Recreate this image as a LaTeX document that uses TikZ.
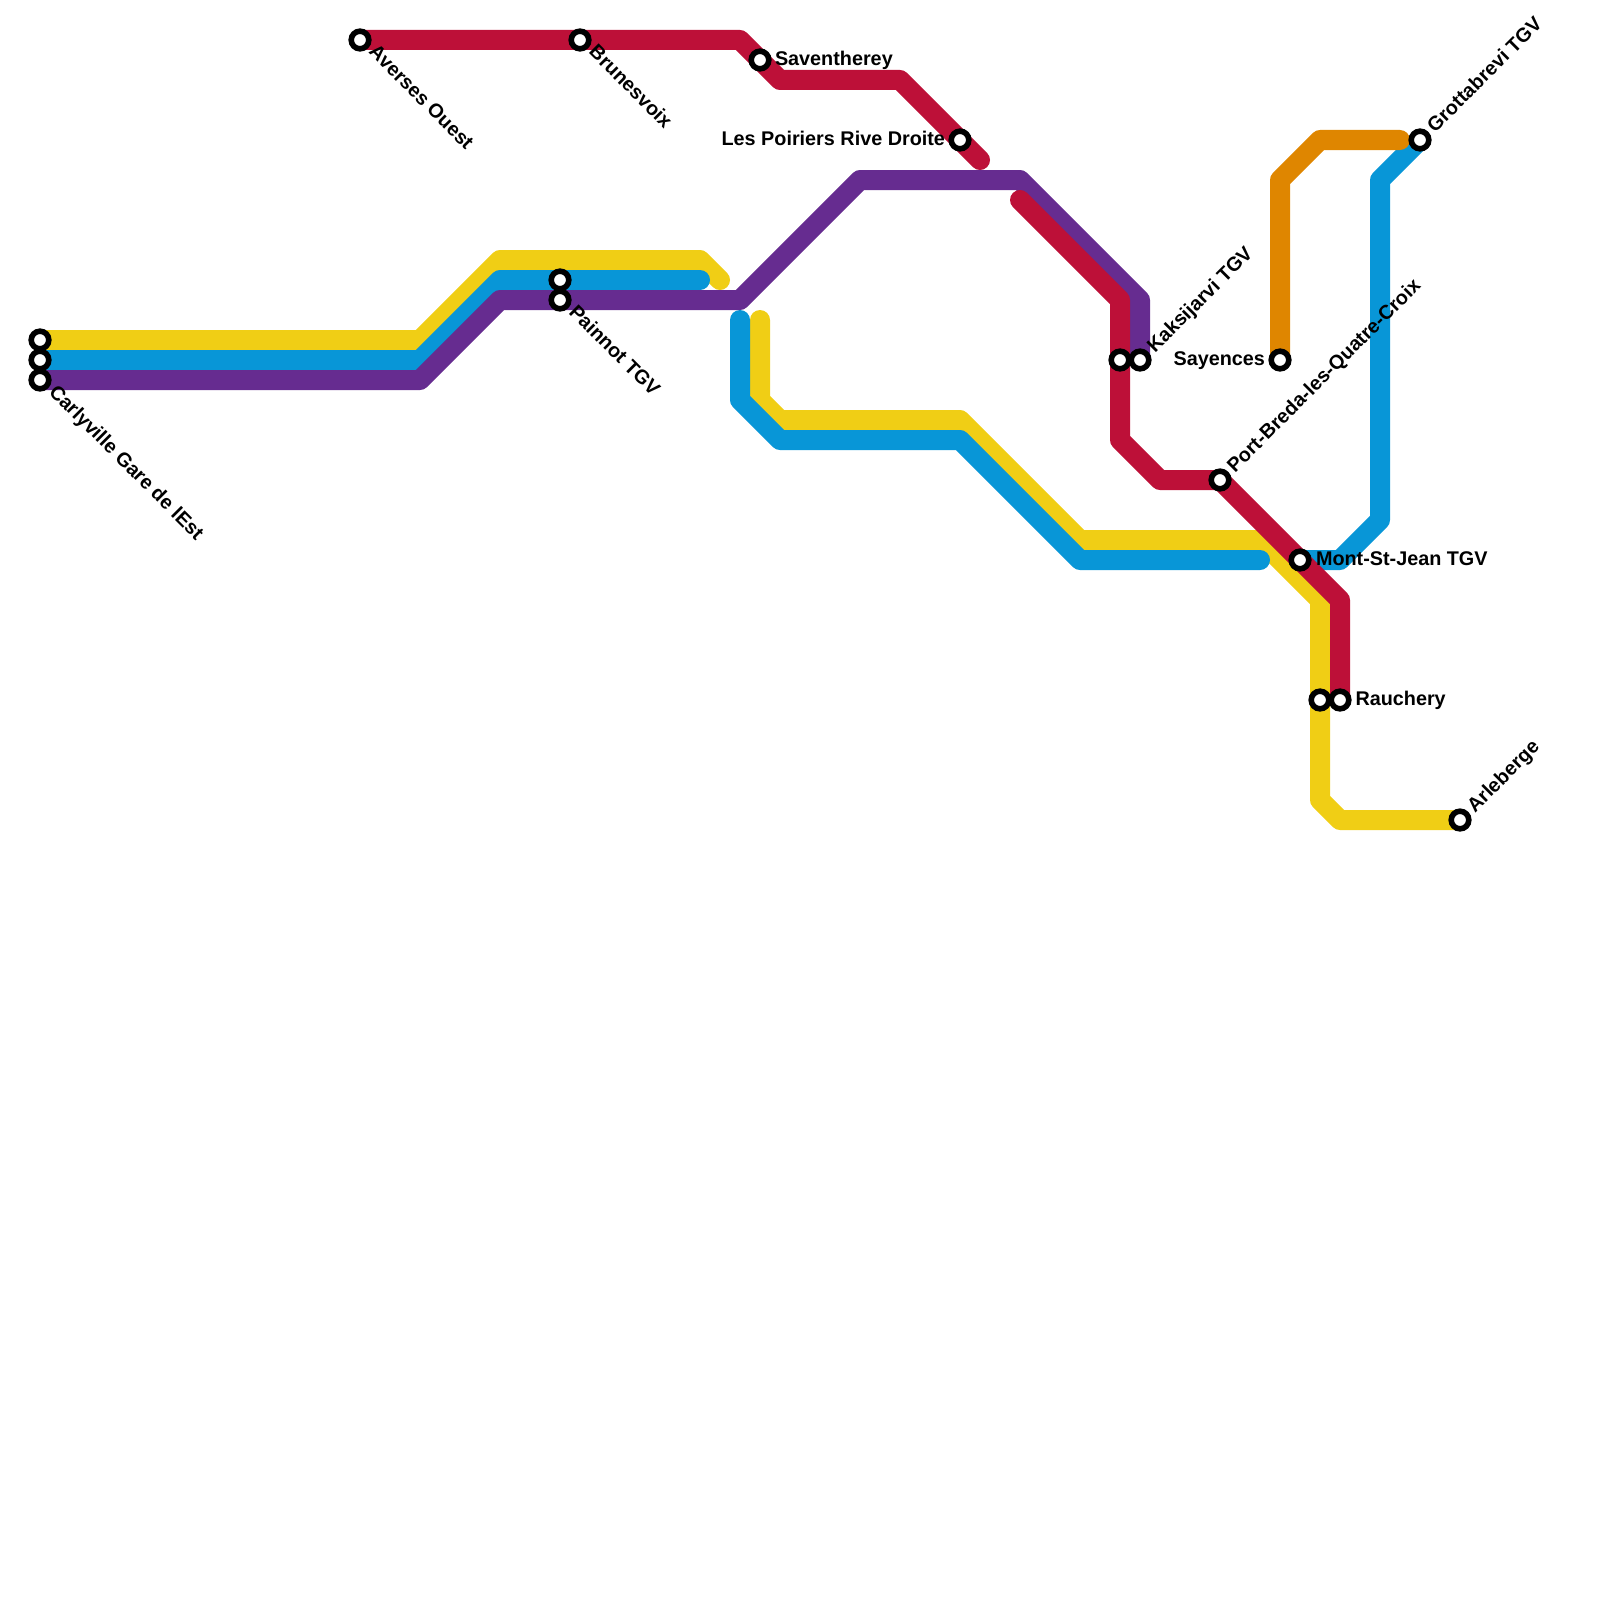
\documentclass[tikz,border=0pt]{standalone}
\usepackage{fontspec}
\setmainfont{Liberation Sans}
\usetikzlibrary{backgrounds}
\definecolor{lyellow}{HTML}{F0CE15}
\definecolor{lblue}{HTML}{0896D7}
\definecolor{lpurple}{HTML}{662C90}
\definecolor{lred}{HTML}{BD1038}
\definecolor{lorange}{HTML}{DF8600}
\tikzset{
  metro/.style={line width=20pt,line cap=round,line join=round},
  stn/.style={circle,draw=black,fill=white,line width=5.6pt,minimum size=17.6pt,inner sep=0pt,outer sep=0pt},
  lab/.style={inner sep=0pt,outer sep=0pt,text=black,font=\fontsize{19.8}{22}\selectfont\bfseries},
  labdown/.style={lab,anchor=base west,rotate=-45},
  labup/.style={lab,anchor=base west,rotate=45},
  labright/.style={lab,anchor=base west},
  lableft/.style={lab,anchor=base east}
}
\begin{document}
\begin{tikzpicture}[x=1pt,y=-1pt]
\useasboundingbox (0,0) rectangle (1600,1600);
% stations
\node[stn] (carY) at (40,340) {};
\node[stn] (carB) at (40,360) {};
\node[stn] (carP) at (40,380) {};
\node[stn] (ave) at (360,40) {};
\node[stn] (bru) at (580,40) {};
\node[stn] (paiB) at (560,280) {};
\node[stn] (paiP) at (560,300) {};
\node[stn] (sav) at (760,60) {};
\node[stn] (poi) at (960,140) {};
\node[stn] (kakR) at (1120,360) {};
\node[stn] (kakP) at (1140,360) {};
\node[stn] (say) at (1280,360) {};
\node[stn] (por) at (1220,480) {};
\node[stn] (mon) at (1300,560) {};
\node[stn] (rauY) at (1320,700) {};
\node[stn] (rauR) at (1340,700) {};
\node[stn] (arl) at (1460,820) {};
\node[stn] (gro) at (1420,140) {};
% free line ends
\coordinate (y1e) at (720,280);
\coordinate (y2s) at (760,320);
\coordinate (b1e) at (700,280);
\coordinate (b2s) at (740,320);
\coordinate (b2e) at (1260,560);
\coordinate (r1e) at (980,160);
\coordinate (r2s) at (1020,200);
\coordinate (o1e) at (1400,140);
% lines
\begin{scope}[on background layer]
\draw[metro,lyellow] (carY.center) -- (420,340) -- (500,260) -- (700,260) -- (y1e);
\draw[metro,lyellow] (y2s) -- (760,400) -- (780,420) -- (960,420) -- (1080,540) -- (1260,540) -- (1320,600) -- (rauY.center) -- (1320,800) -- (1340,820) -- (arl.center);
\draw[metro,lblue] (carB.center) -- (420,360) -- (500,280) -- (paiB.center) -- (b1e);
\draw[metro,lblue] (b2s) -- (740,400) -- (780,440) -- (960,440) -- (1080,560) -- (b2e);
\draw[metro,lblue] (mon.center) -- (1340,560) -- (1380,520) -- (1380,180) -- (gro.center);
\draw[metro,lpurple] (carP.center) -- (420,380) -- (500,300) -- (paiP.center) -- (740,300) -- (860,180) -- (1020,180) -- (1140,300) -- (kakP.center);
\draw[metro,lred] (ave.center) -- (bru.center) -- (740,40) -- (sav.center) -- (780,80) -- (900,80) -- (poi.center) -- (r1e);
\draw[metro,lred] (r2s) -- (1120,300) -- (kakR.center) -- (1120,440) -- (1160,480) -- (por.center) -- (mon.center) -- (1340,600) -- (rauR.center);
\draw[metro,lorange] (say.center) -- (1280,180) -- (1320,140) -- (o1e);
\end{scope}
% labels
\node[labdown] (lcar) at (48,393) {Carlyville Gare de lEst};
\node[labdown] (lave) at (368,53) {Averses Ouest};
\node[labdown] (lbru) at (588,53) {Brunesvoix};
\node[labdown] (lpai) at (568,313) {Painnot TGV};
\node[labright] (lsav) at (775,65.6) {Saventherey};
\node[lableft] (lpoi) at (945,145.6) {Les Poiriers Rive Droite};
\node[labup] (lkak) at (1155,353.5) {Kaksijarvi TGV};
\node[lableft] (lsay) at (1265,365) {Sayences};
\node[labup] (lpor) at (1235,473.5) {Port-Breda-les-Quatre-Croix};
\node[labright] (lmon) at (1316,565) {Mont-St-Jean TGV};
\node[labright] (lrau) at (1355.5,705) {Rauchery};
\node[labup] (larl) at (1475,813.5) {Arleberge};
\node[labup] (lgro) at (1435,133.5) {Grottabrevi TGV};
\end{tikzpicture}
\end{document}
